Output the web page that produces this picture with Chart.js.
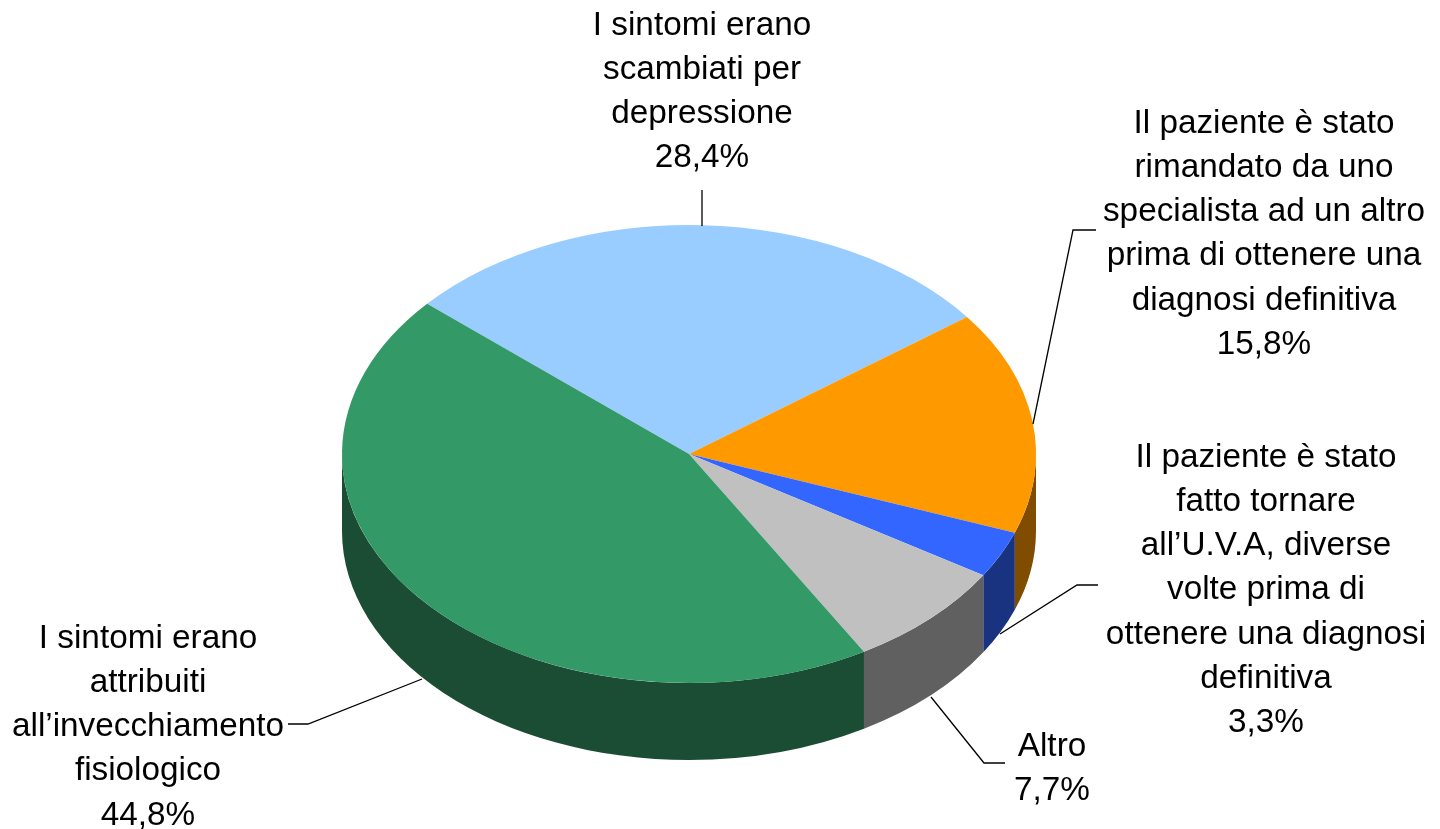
<!DOCTYPE html>
<html lang="it">
<head>
  <meta charset="UTF-8" />
  <title>Motivi del ritardo nella diagnosi</title>
  <script src="https://cdn.jsdelivr.net/npm/chart.js"></script>
  <style>
    body { margin: 0; background: #fff; }
    canvas { display: block; }
  </style>
</head>
<body>
  <canvas id="pie" width="1440" height="829"></canvas>

  <script>
    const categories = [
      ["I sintomi erano", "scambiati per", "depressione"],
      ["Il paziente è stato", "rimandato da uno", "specialista ad un altro", "prima di ottenere una", "diagnosi definitiva"],
      ["Il paziente è stato", "fatto tornare", "all’U.V.A, diverse", "volte prima di", "ottenere una diagnosi", "definitiva"],
      ["Altro"],
      ["I sintomi erano", "attribuiti", "all’invecchiamento", "fisiologico"]
    ];
    const values = [28.4, 15.8, 3.3, 7.7, 44.8];
    const topColors = ["#99ccff", "#ff9900", "#3366ff", "#c0c0c0", "#339966"];
    const sideColors = ["#4d6680", "#804d00", "#1a3380", "#606060", "#1a4d33"];

    // where each label block sits (centre x, first line y) and its leader line
    const labelX = [702, 1264, 1266, 1052, 148];
    const labelY = [26, 124, 458, 747, 639];
    const leaders = [
      [[702, 226], [702, 190]],
      [[1033, 424], [1073, 230], [1096, 230]],
      [[1000, 634], [1077, 585], [1098, 585]],
      [[931, 697], [984, 763], [1005, 763]],
      [[422, 679], [308, 724], [288, 724]]
    ];

    const squash = 0.66;  // vertical flattening of the disc
    const depth = 77;     // height of the side wall in px
    const lineHeight = 44.1;

    // side wall first, then flatten the canvas so the arcs come out as an ellipse
    const tiltPlugin = {
      id: "tilt",
      beforeDatasetsDraw(chart) {
        const ctx = chart.ctx;
        const arcs = chart.getDatasetMeta(0).data;
        arcs.forEach((arc, i) => {
          const a0 = Math.max(arc.startAngle, 0);
          const a1 = Math.min(arc.endAngle, Math.PI);
          if (a1 <= a0) return;
          const rx = arc.outerRadius;
          const ry = rx * squash;
          ctx.beginPath();
          ctx.ellipse(arc.x, arc.y, rx, ry, 0, a0, a1);
          ctx.ellipse(arc.x, arc.y + depth, rx, ry, 0, a1, a0, true);
          ctx.closePath();
          ctx.fillStyle = sideColors[i];
          ctx.fill();
        });
        const c = arcs[0];
        ctx.save();
        ctx.translate(c.x, c.y);
        ctx.scale(1, squash);
        ctx.translate(-c.x, -c.y);
      },
      afterDatasetsDraw(chart) {
        chart.ctx.restore();
      }
    };

    const labelPlugin = {
      id: "sliceLabels",
      afterDraw(chart) {
        const ctx = chart.ctx;
        ctx.save();
        ctx.strokeStyle = "#000";
        ctx.lineWidth = 1.3;
        leaders.forEach(pts => {
          ctx.beginPath();
          pts.forEach((p, k) => k ? ctx.lineTo(p[0], p[1]) : ctx.moveTo(p[0], p[1]));
          ctx.stroke();
        });
        ctx.fillStyle = "#000";
        ctx.font = "33.3px 'Liberation Sans'";
        ctx.textAlign = "center";
        ctx.textBaseline = "middle";
        categories.forEach((lines, i) => {
          const pct = values[i].toFixed(1).replace(".", ",") + "%";
          lines.concat(pct).forEach((txt, k) => {
            ctx.fillText(txt, labelX[i], labelY[i] + k * lineHeight);
          });
        });
        ctx.restore();
      }
    };

    new Chart(document.getElementById("pie"), {
      type: "pie",
      data: {
        labels: categories.map(l => l.join(" ")),
        datasets: [{
          data: values,
          backgroundColor: topColors,
          borderColor: topColors,
          borderWidth: 0,
          clip: false
        }]
      },
      options: {
        responsive: false,
        animation: false,
        rotation: -49,
        // centres the disc at 689,454 with a radius of 347
        layout: { padding: { left: 342, right: 404, top: 107, bottom: 28 } },
        plugins: { legend: { display: false }, tooltip: { enabled: false } }
      },
      plugins: [tiltPlugin, labelPlugin]
    });
  </script>
</body>
</html>
